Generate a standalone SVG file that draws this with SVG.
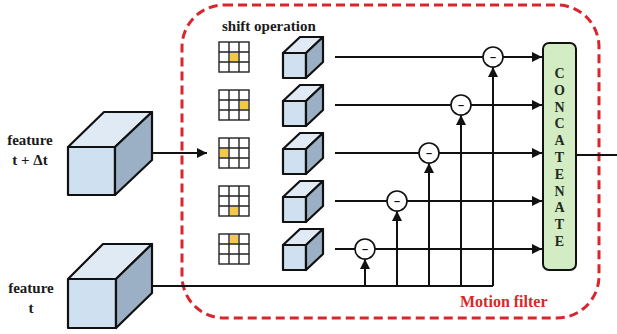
<svg xmlns="http://www.w3.org/2000/svg" width="617" height="334" viewBox="0 0 617 334">
<style>
.lbl{font-family:"Liberation Serif","Times New Roman",serif;font-weight:bold;font-size:15px;fill:#1a1a1a}
.red{font-family:"Liberation Serif","Times New Roman",serif;font-weight:bold;font-size:16px;fill:#d42a2a}
.cc{font-family:"Liberation Serif","Times New Roman",serif;font-weight:bold;font-size:14px;fill:#1e2a1e;text-anchor:middle}
.mn{font-family:"Liberation Sans",Arial,sans-serif;font-weight:bold;font-size:11px;fill:#111;text-anchor:middle}
.fr{fill:#cfe1f1;stroke:#111;stroke-width:2.2;stroke-linejoin:round}
.tp{fill:#dfeaf5;stroke:#111;stroke-width:2.2;stroke-linejoin:round}
.sd{fill:#9cb0c5;stroke:#111;stroke-width:2.2;stroke-linejoin:round}
.ln{stroke:#111;stroke-width:2;fill:none}
.gr{fill:#fff;stroke:#222;stroke-width:1.4}
.ye{fill:#f4c84a}
.op{fill:#fff;stroke:#111;stroke-width:1.6}
</style>
<defs>
<marker id="ah" viewBox="0 0 10 10" refX="10" refY="5" markerWidth="5" markerHeight="5" orient="auto" markerUnits="strokeWidth">
<path d="M0,0 L10,5 L0,10 z" fill="#111"/>
</marker>
<g id="sc">
<rect class="fr" x="0" y="0" width="23" height="25"/>
<polygon class="tp" points="0,0 17,-16 40,-16 23,0"/>
<polygon class="sd" points="23,0 40,-16 40,9 23,25"/>
</g>
<g id="grid">
<rect class="gr" x="0" y="0" width="30" height="30"/>
<path d="M10,0V30M20,0V30M0,10H30M0,20H30" stroke="#222" stroke-width="1.4"/>
</g>
</defs>

<g id="motion-filter">
<rect x="182" y="5" width="417" height="313" rx="42" ry="42" fill="none" stroke="#d9262c" stroke-width="3" stroke-dasharray="9 5"/>
<text class="red" x="460" y="307">Motion filter</text>
</g>

<g id="feature-t-dt">
<rect class="fr" x="68" y="147" width="47" height="48"/>
<polygon class="tp" points="68,147 104,112 152,112 115,147"/>
<polygon class="sd" points="115,147 152,112 152,160 115,195"/>
<text class="lbl" x="30" y="145" text-anchor="middle">feature</text>
<text class="lbl" x="30" y="165" text-anchor="middle">t + Δt</text>
</g>

<g id="feature-t">
<rect class="fr" x="68" y="279" width="48" height="49"/>
<polygon class="tp" points="68,279 103,244 152,244 116,279"/>
<polygon class="sd" points="116,279 152,244 152,293 116,328"/>
<text class="lbl" x="31" y="293" text-anchor="middle">feature</text>
<text class="lbl" x="31" y="313" text-anchor="middle">t</text>
</g>

<g id="shift-operation">
<text class="lbl" x="222" y="31" font-size="14">shift operation</text>
<g transform="translate(219,42)"><use href="#grid"/><rect class="ye" x="11" y="11" width="8" height="8"/></g>
<g transform="translate(219,90)"><use href="#grid"/><rect class="ye" x="21" y="11" width="8" height="8"/></g>
<g transform="translate(219,138)"><use href="#grid"/><rect class="ye" x="1" y="11" width="8" height="8"/></g>
<g transform="translate(219,186)"><use href="#grid"/><rect class="ye" x="11" y="21" width="8" height="8"/></g>
<g transform="translate(219,234)"><use href="#grid"/><rect class="ye" x="11" y="1" width="8" height="8"/></g>
</g>

<g id="shifted-features">
<use href="#sc" x="283" y="53"/>
<use href="#sc" x="283" y="101"/>
<use href="#sc" x="283" y="149"/>
<use href="#sc" x="283" y="197"/>
<use href="#sc" x="283" y="245"/>
</g>

<g id="connectors">
<line class="ln" x1="152" y1="153" x2="207" y2="153" marker-end="url(#ah)"/>
<path class="ln" d="M152,286H493"/>
<line class="ln" x1="335" y1="57" x2="542" y2="57" marker-end="url(#ah)"/>
<line class="ln" x1="335" y1="105" x2="542" y2="105" marker-end="url(#ah)"/>
<line class="ln" x1="335" y1="153" x2="542" y2="153" marker-end="url(#ah)"/>
<line class="ln" x1="335" y1="201" x2="542" y2="201" marker-end="url(#ah)"/>
<line class="ln" x1="335" y1="249" x2="542" y2="249" marker-end="url(#ah)"/>
<line class="ln" x1="493" y1="286" x2="493" y2="67" marker-end="url(#ah)"/>
<line class="ln" x1="461" y1="286" x2="461" y2="115" marker-end="url(#ah)"/>
<line class="ln" x1="429" y1="286" x2="429" y2="163" marker-end="url(#ah)"/>
<line class="ln" x1="397" y1="286" x2="397" y2="211" marker-end="url(#ah)"/>
<line class="ln" x1="365" y1="286" x2="365" y2="259" marker-end="url(#ah)"/>
<line class="ln" x1="576" y1="155" x2="627" y2="155" marker-end="url(#ah)"/>
</g>

<g id="subtract-ops">
<circle class="op" cx="493" cy="57" r="10"/><text class="mn" x="493" y="61">–</text>
<circle class="op" cx="461" cy="105" r="10"/><text class="mn" x="461" y="109">–</text>
<circle class="op" cx="429" cy="153" r="10"/><text class="mn" x="429" y="157">–</text>
<circle class="op" cx="397" cy="201" r="10"/><text class="mn" x="397" y="205">–</text>
<circle class="op" cx="365" cy="249" r="10"/><text class="mn" x="365" y="253">–</text>
</g>

<g id="concatenate">
<rect x="543" y="43" width="33" height="227" rx="6" ry="6" fill="#d4ecc4" stroke="#111" stroke-width="2"/>
<text class="cc" x="559.5" y="78">C</text>
<text class="cc" x="559.5" y="95">O</text>
<text class="cc" x="559.5" y="112">N</text>
<text class="cc" x="559.5" y="128">C</text>
<text class="cc" x="559.5" y="145">A</text>
<text class="cc" x="559.5" y="162">T</text>
<text class="cc" x="559.5" y="179">E</text>
<text class="cc" x="559.5" y="196">N</text>
<text class="cc" x="559.5" y="212">A</text>
<text class="cc" x="559.5" y="229">T</text>
<text class="cc" x="559.5" y="246">E</text>
</g>
</svg>
